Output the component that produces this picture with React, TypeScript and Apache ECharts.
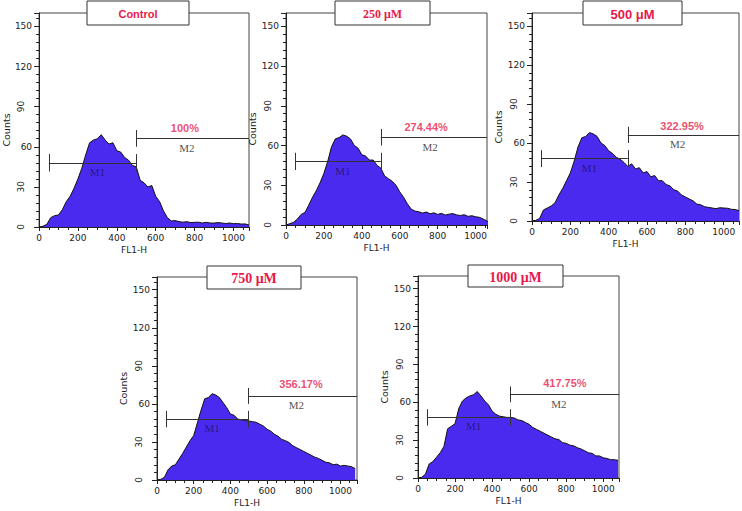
import React, { useEffect, useRef } from 'react';
import * as echarts from 'echarts';

// ---------- data ----------
const BIN_WIDTH = 20; // FL1-H channel width of each histogram bin
const panelTitles = ['Control', '250 μM', '500 μM', '750 μM', '1000 μM'];
const m2Percents = ['100%', '274.44%', '322.95%', '356.17%', '417.75%'];
const horizontalYLabels = [150, 120, 60];
const rotatedYLabels = [90, 30, 0];
const gateM1 = [50, 500];
const gateM2Start = 500;
const gateM1Level = 48;
const gateM2Level = 66;

const controlCounts = [0, 0.5, 2, 7, 8.5, 9, 13, 19, 23, 29, 36, 44, 54, 63, 65, 66, 69, 65, 62, 63, 57, 56, 52, 50, 46, 45, 35, 33, 30, 31, 23, 19, 12, 7, 4.5, 4.8, 4, 3.6, 4, 3.3, 3.5, 3.6, 3, 3.5, 3, 2.9, 3.3, 3, 2.6, 3, 2.5, 2.6, 2.2, 2.3, 1.5];
const counts250 = [0, 1, 2, 4.5, 8, 9.5, 15, 21, 26, 32, 39, 48, 59, 65, 66, 68, 67, 65, 60, 58, 53, 52, 49, 49, 45, 43, 37, 35, 33, 30, 25, 21, 16, 12, 10.5, 10, 9, 9.8, 8.5, 9.2, 8, 8.8, 7.5, 8.2, 8.6, 7.6, 7.2, 7.8, 6.5, 7, 6.2, 5.8, 4.5, 3, 1];
const counts500 = [0, 0.5, 2, 8.5, 10, 11.5, 14, 20, 25, 31, 37, 46, 57, 64, 65, 68, 67, 65, 60, 58, 54, 52, 49, 47.5, 45, 42, 44, 40, 41, 37, 38, 34, 35, 31, 31, 28, 27, 24, 23, 20, 18.5, 17, 15.5, 13, 12.5, 11, 10.5, 10, 9.5, 10.2, 10, 9.8, 9, 8.8, 8];
const counts750 = [0, 0.5, 2, 8, 11, 12, 16.5, 21, 26, 31, 35, 45, 55, 64, 65, 68, 67, 65, 61, 57, 52, 51, 48, 47.5, 47, 46.5, 46, 45.5, 44, 42.5, 40, 38.5, 36, 34.5, 32, 31, 29.5, 27, 25.5, 24, 22.5, 21, 19.5, 18, 17, 15.5, 14, 13.5, 12, 12.5, 11, 11.5, 11, 10.5, 9];
const counts1000 = [0, 0.5, 3, 11, 13, 16.5, 20, 25, 39, 41, 43, 55, 61, 63.5, 65, 66, 68.5, 65, 61, 58, 53, 50.5, 49, 48.5, 48, 48, 47.5, 46, 45.5, 44, 42.5, 40, 38.5, 37, 35.5, 34, 32.5, 31, 30.5, 28, 27.5, 26, 25.5, 24, 23, 21.5, 20, 19.5, 17.5, 17.5, 16, 15.5, 14.5, 14.5, 14];
const panelCounts = [controlCounts, counts250, counts500, counts750, counts1000];

// ---------- layout ----------
const layouts = [
  { left: 33, top: 13, width: 216, height: 214, xMax: 1080, box: [87, 1, 102, 24], serif: false, size: 11, pct: [750, 74] },
  { left: 286, top: 13, width: 201, height: 212, xMax: 1060, box: [335, 1, 95, 24], serif: true, size: 12, pct: [739, 74] },
  { left: 532, top: 13, width: 207, height: 208, xMax: 1080, box: [583, 1, 99, 24], serif: false, size: 13, pct: [783, 73] },
  { left: 157, top: 277, width: 200, height: 203, xMax: 1090, box: [207, 266, 94, 23], serif: true, size: 14, pct: [785, 76] },
  { left: 418, top: 276, width: 201, height: 202, xMax: 1085, box: [468, 265, 95, 22], serif: true, size: 14, pct: [793, 75] },
];

const FILL = '#4b2af0';
const RED = '#e8194a';
const AXIS = '#222';
const SANS = '"DejaVu Sans", sans-serif';
const SERIF = '"Liberation Serif", serif';

function buildOption() {
  const grid: any[] = [];
  const xAxis: any[] = [];
  const yAxis: any[] = [];
  const series: any[] = [];
  const graphic: any[] = [];

  layouts.forEach((L, i) => {
    grid.push({
      left: L.left, top: L.top, width: L.width, height: L.height,
      show: true, borderColor: '#444', borderWidth: 1, backgroundColor: 'transparent',
    });
    xAxis.push({
      type: 'value', gridIndex: i, min: 0, max: L.xMax, interval: 200, position: 'bottom',
      name: 'FL1-H', nameLocation: 'middle', nameGap: 18,
      nameTextStyle: { fontFamily: SANS, fontSize: 9, color: AXIS, padding: [0, 20, 0, 0] },
      axisLine: { show: true, onZero: false, lineStyle: { color: AXIS, width: 1 } },
      axisTick: { show: true, length: 4, lineStyle: { color: AXIS } },
      minorTick: { show: true, splitNumber: 4, length: 3, lineStyle: { color: AXIS } },
      splitLine: { show: false },
      axisLabel: {
        fontFamily: SANS, fontSize: 9, color: AXIS, margin: 6, showMaxLabel: false,
        formatter: (v: number) => (v % 200 === 0 ? String(v) : ''),
      },
    });
    // primary y axis (line, ticks, horizontal labels)
    yAxis.push({
      type: 'value', gridIndex: i, min: 0, max: 160, interval: 30, position: 'left',
      name: 'Counts', nameLocation: 'middle', nameGap: 21, nameRotate: 90,
      nameTextStyle: { fontFamily: SANS, fontSize: 9.5, color: AXIS, padding: [0, 20, 0, 0] },
      axisLine: { show: true, onZero: false, lineStyle: { color: AXIS, width: 1 } },
      axisTick: { show: true, length: 5, lineStyle: { color: AXIS } },
      minorTick: { show: true, splitNumber: 5, length: 3, lineStyle: { color: AXIS } },
      splitLine: { show: false },
      axisLabel: {
        fontFamily: SANS, fontSize: 9, color: AXIS, margin: 7, showMaxLabel: false,
        formatter: (v: number) => (horizontalYLabels.indexOf(v) >= 0 ? String(v) : ''),
      },
    });
    // overlay y axis: rotated labels only
    yAxis.push({
      type: 'value', gridIndex: i, min: 0, max: 160, interval: 30, position: 'left', offset: 0,
      axisLine: { show: false, onZero: false }, axisTick: { show: false }, splitLine: { show: false },
      axisLabel: {
        fontFamily: SANS, fontSize: 9, color: AXIS, margin: 14, rotate: 90, showMaxLabel: false,
        formatter: (v: number) => (rotatedYLabels.indexOf(v) >= 0 ? String(v) : ''),
      },
    });

    const data = panelCounts[i].map((c, k) => [k * BIN_WIDTH, c]);
    series.push({
      type: 'line', xAxisIndex: i, yAxisIndex: i * 2, data,
      symbol: 'none', smooth: false, clip: true,
      lineStyle: { color: '#111', width: 1 },
      areaStyle: { color: FILL, opacity: 1 },
      z: 2,
      markLine: {
        silent: true, symbol: 'none', animation: false,
        lineStyle: { color: '#333', width: 1, type: 'solid' },
        label: { show: false },
        data: [
          [{ coord: [gateM1[0], gateM1Level] }, { coord: [gateM1[1], gateM1Level] }],
          [{ coord: [gateM1[0], gateM1Level - 6.5] }, { coord: [gateM1[0], gateM1Level + 6.5] }],
          [{ coord: [gateM1[1], gateM1Level - 6.5] }, { coord: [gateM1[1], gateM1Level + 6.5] }],
          [{ coord: [gateM2Start, gateM2Level] }, { coord: [L.xMax, gateM2Level] }],
          [{ coord: [gateM2Start, gateM2Level - 6] }, { coord: [gateM2Start, gateM2Level + 6.5] }],
        ],
      },
    });
    series.push({
      type: 'scatter', xAxisIndex: i, yAxisIndex: i * 2, symbolSize: 0, silent: true, z: 5,
      data: [
        { value: [300, 41], name: 'M1', label: { color: '#1c1464', fontFamily: SERIF, fontSize: 11 } },
        { value: [760, 59], name: 'M2', label: { color: '#222', fontFamily: SERIF, fontSize: 11 } },
        { value: [L.pct[0], L.pct[1]], name: m2Percents[i], label: { color: RED, fontFamily: '"Liberation Sans", sans-serif', fontWeight: 'bold', fontSize: 11 } },
      ],
      label: { show: true, position: 'inside', formatter: '{b}' },
    });

    const [bx, by, bw, bh] = L.box;
    graphic.push({
      type: 'rect', z: 100, shape: { x: bx, y: by, width: bw, height: bh },
      style: { fill: '#fff', stroke: '#333', lineWidth: 1 },
    });
    graphic.push({
      type: 'text', z: 101, x: bx + bw / 2, y: by + bh / 2 + 1,
      style: {
        text: panelTitles[i], align: 'center', verticalAlign: 'middle', fill: RED,
        fontFamily: L.serif ? SERIF : '"Liberation Sans", sans-serif', fontWeight: 'bold', fontSize: L.size,
      },
    });
  });

  return { animation: false, backgroundColor: '#fff', grid, xAxis, yAxis, series, graphic };
}

export default function App() {
  const ref = useRef<HTMLDivElement>(null);
  useEffect(() => {
    if (!ref.current) return;
    const chart = echarts.init(ref.current, undefined, { renderer: 'svg' });
    chart.setOption(buildOption() as any);
    return () => chart.dispose();
  }, []);
  return (
    <div
      ref={ref}
      style={{ position: 'absolute', left: 0, top: 0, width: 742, height: 511, background: '#fff' }}
    />
  );
}
